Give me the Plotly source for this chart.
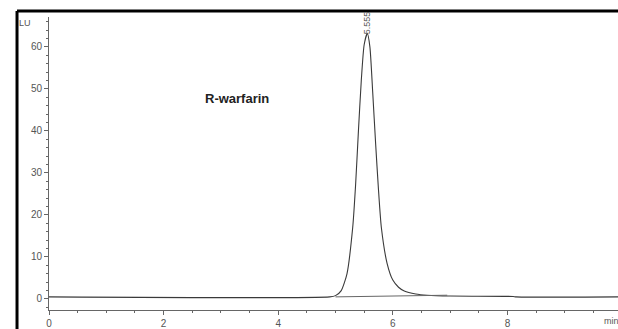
import plotly.graph_objects as go

# Chromatogram signal (LU)
time_min = [0.0, 4.9, 5.0, 5.1, 5.2, 5.3, 5.35, 5.4, 5.45, 5.5, 5.555, 5.6, 5.65,
            5.7, 5.75, 5.8, 5.9, 6.0, 6.1, 6.2, 6.4, 6.6, 7.0, 8.1, 8.15, 9.93]
signal_lu = [0.5, 0.5, 0.8, 2.0, 6.0, 17.0, 27.0, 40.0, 52.0, 60.5, 63.2, 60.0, 49.0,
             37.0, 26.0, 17.0, 8.5, 4.5, 2.8, 1.9, 1.2, 0.9, 0.7, 0.6, 0.5, 0.5]

# Integration baseline drawn under the peak
base_time = [5.0, 6.95]
base_lu = [0.5, 0.9]

peak_rt = 5.555
peak_label = "5.555"
compound = "R-warfarin"

x_ticks = [0, 2, 4, 6, 8]
y_ticks = [0, 10, 20, 30, 40, 50, 60]

fig = go.Figure()
fig.add_trace(go.Scatter(x=time_min, y=signal_lu, mode="lines",
                         line=dict(color="#3a3a3a", width=1.1, shape="spline", smoothing=0.6),
                         hoverinfo="skip"))
fig.add_trace(go.Scatter(x=base_time, y=base_lu, mode="lines",
                         line=dict(color="#666666", width=1), hoverinfo="skip"))

axis_col = "#666666"
font_col = "#555555"
fig.update_layout(
    width=618, height=329,
    margin=dict(l=49, r=0, t=17, b=19),
    paper_bgcolor="white", plot_bgcolor="white",
    showlegend=False,
    font=dict(family="Liberation Sans, Arial, sans-serif", size=10, color=font_col),
    xaxis=dict(range=[0, 9.93], tickvals=x_ticks, ticks="outside", ticklen=4,
               tickcolor=axis_col, showline=True, linecolor=axis_col, linewidth=1,
               showgrid=False, zeroline=False,
               minor=dict(dtick=0.5, ticks="outside", ticklen=2, tickcolor=axis_col),
               tickfont=dict(size=10, color=font_col)),
    yaxis=dict(range=[-2.62, 67.1], tickvals=y_ticks, ticks="outside", ticklen=4,
               tickcolor=axis_col, showline=True, linecolor=axis_col, linewidth=1,
               showgrid=False, zeroline=False,
               minor=dict(dtick=2, ticks="outside", ticklen=2, tickcolor=axis_col),
               tickfont=dict(size=10, color=font_col)),
)

# Frame border (top and left, black)
fig.add_shape(type="line", xref="paper", yref="paper", x0=-0.0562, x1=1.01,
              y0=1.0205, y1=1.0205, line=dict(color="black", width=3))
fig.add_shape(type="line", xref="paper", yref="paper", x0=-0.0562, x1=-0.0562,
              y0=1.0205, y1=-0.08, line=dict(color="black", width=3))

# Axis unit labels
fig.add_annotation(xref="paper", yref="paper", x=-0.042, y=0.98, text="LU",
                   showarrow=False, xanchor="center", yanchor="middle",
                   font=dict(size=9, color=font_col))
fig.add_annotation(xref="paper", yref="paper", x=0.988, y=-0.038, text="min",
                   showarrow=False, xanchor="center", yanchor="middle",
                   font=dict(size=9, color=font_col))

# Peak retention time label
fig.add_annotation(x=peak_rt, y=63.2, text=peak_label, showarrow=False,
                   textangle=-90, xanchor="center", yanchor="bottom", yshift=-3,
                   font=dict(size=9, color=font_col))

# Compound name
fig.add_annotation(xref="paper", yref="paper", x=0.331, y=0.722, text="<b>" + compound + "</b>",
                   showarrow=False, xanchor="center", yanchor="middle",
                   font=dict(size=13, color="#222222", family="Liberation Sans, Arial, sans-serif"))

fig.write_html("out.html", config={"displayModeBar": False},
               post_script="document.body.style.margin='0';document.body.style.overflow='hidden';")
